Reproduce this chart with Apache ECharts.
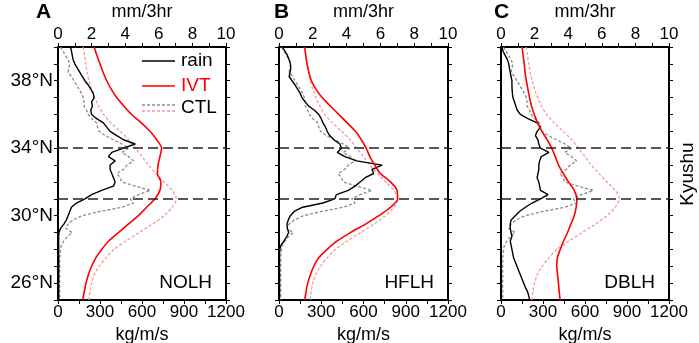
<!DOCTYPE html>
<html>
<head>
<meta charset="utf-8">
<script src="https://cdn.jsdelivr.net/npm/echarts@6.0.0/dist/echarts.min.js"></script>
<style>
html,body{margin:0;padding:0;background:#fff;}
#chart{width:699px;height:343px;}
</style>
</head>
<body>
<div id="chart"></div>
<script>
// latitude sampling (degrees N)
var latFine = [
  40,39.75,39.5,39.25, 39,38.75,38.5,38.25, 38,37.75,37.5,37.25, 37,36.75,36.5,36.25,
  36,35.75,35.5,35.25, 35,34.75,34.5,34.25, 34,33.75,33.5,33.25, 33,32.75,32.5,32.25,
  32,31.75,31.5,31.25, 31,30.75,30.5,30.25, 30,29.75,29.5,29.25, 29,28.75,28.5,28.25,
  28,27.75,27.5,27.25, 27,26.75,26.5,26.25, 26,25.75,25.5,25.25, 25
];
var latCoarse = [40,39.5,39,38.5,38,37.5,37,36.5,36,35.5,35,34.5,34,33.5,33,32.5,
  32,31.5,31,30.5,30,29.5,29,28.5,28,27.5,27,26.5,26,25.5,25];

// rain, mm/3hr (on latFine)
var ctlRain = [
  0.15,0.3,0.45,0.6, 0.7,0.65,0.6,0.8, 0.95,1.1,1.25,1.4, 1.5,1.55,1.55,1.7,
  1.8,2.0,2.3,2.35, 2.45,2.8,3.3,3.8, 4.2,3.8,4.2,4.5, 4.1,3.9,3.5,3.7,
  3.8,4.6,5.5,4.8, 4.3,4.5,3.8,2.5, 1.45,0.9,0.6,0.45, 0.85,0.55,0.35,0.2,
  0.15,0.12,0.1,0.1, 0.1,0.1,0.1,0.1, 0.1,0.1,0.1,0.1, 0.1
];
var rainA = [
  0.75,0.8,0.85,0.9, 1.0,1.15,1.3,1.45, 1.6,1.8,1.95,2.1, 2.15,2.0,2.05,1.95,
  2.0,2.3,2.7,2.9, 3.1,3.5,3.9,4.6, 3.9,3.2,3.0,3.4, 3.1,3.1,3.2,3.3,
  3.4,3.3,2.6,2.0, 1.6,1.1,0.8,0.7, 0.6,0.5,0.35,0.15, 0.06,0.04,0.04,0.04,
  0.04,0.04,0.04,0.04, 0.04,0.04,0.04,0.04, 0.04,0.04,0.04,0.04, 0.04
];
var rainB = [
  0.2,0.35,0.5,0.6, 0.67,0.7,0.65,0.6, 0.77,0.95,1.1,1.25, 1.36,1.55,1.75,2.1,
  2.35,2.5,2.6,2.75, 2.85,3.0,3.25,3.6, 3.7,3.45,3.9,4.6, 6.1,5.5,5.6,5.1,
  4.8,4.5,4.1,3.4, 3.3,2.6,1.4,0.9, 0.67,0.55,0.47,0.5, 0.57,0.45,0.3,0.12,
  0.05,0.03,0.03,0.03, 0.03,0.03,0.03,0.03, 0.03,0.03,0.03,0.03, 0.03
];
var rainC = [
  0.06,0.12,0.25,0.38, 0.46,0.5,0.55,0.6, 0.65,0.65,0.66,0.68, 0.71,0.8,0.88,0.97,
  1.15,1.6,2.15,2.35, 2.15,2.05,2.2,2.25, 2.35,2.85,2.4,2.3, 2.25,2.25,2.2,2.15,
  2.25,2.3,2.35,2.8, 2.35,1.85,1.45,1.1, 0.85,0.6,0.55,0.55, 0.6,0.65,0.55,0.6,
  0.65,0.7,0.75,0.85, 0.95,1.05,1.15,1.25, 1.35,1.45,1.58,1.65, 1.7
];

// IVT, kg/m/s (on latCoarse)
var ctlIvt = [180,190,198,208,222,240,262,290,325,380,445,505,553,600,645,700,
  757,816,845,816,757,674,580,485,400,342,294,260,240,228,220];
var ivtA = [258,278,300,322,348,380,419,470,526,595,657,705,740,728,715,710,
  735,728,693,633,574,502,431,362,312,270,240,217,200,188,176];
var ivtB = [183,190,199,212,230,262,306,365,425,485,543,585,619,645,680,720,
  792,838,842,792,709,614,508,413,342,282,247,223,204,192,183];
var ivtC = [150,158,166,172,181,192,204,218,238,262,292,330,362,388,411,445,
  482,523,542,537,523,499,475,447,423,403,398,404,410,416,422];

var panelNames = ['A','B','C'];
var expNames = ['NOLH','HFLH','DBLH'];
var rainList = [rainA, rainB, rainC];
var ivtList = [ivtA, ivtB, ivtC];
var latTicks = [26,30,34,38];
var kyushuLat = [34,31];

var FONT = '"Liberation Sans", Arial, Helvetica, sans-serif';
var boxes = [
  {left:58, top:47, width:168, height:253},
  {left:279, top:47, width:169, height:253},
  {left:501, top:47, width:168, height:253}
];

function pairs(xs, ys){
  return xs.map(function(v,i){ return [v, ys[i]]; });
}

var axLine = {show:true, onZero:false, lineStyle:{color:'#000', width:2}};
var axTick = {show:true, length:4, lineStyle:{color:'#000', width:1}};
var lbl = {color:'#000', fontSize:17, fontFamily:FONT};

var grids = [], xAxes = [], yAxes = [], series = [], graphics = [];

for (var p = 0; p < 3; p++) {
  var b = boxes[p];
  grids.push({left:b.left, top:b.top, width:b.width, height:b.height, containLabel:false, outerBoundsMode:'none'});
  // bottom: IVT
  xAxes.push({type:'value', gridIndex:p, position:'bottom', min:0, max:1200, interval:150,
    axisLine:axLine, axisTick:axTick, splitLine:{show:false},
    axisLabel:Object.assign({margin:4, formatter:function(v){ return v % 300 === 0 ? String(v) : ''; }}, lbl),
    name:'kg/m/s', nameLocation:'middle', nameGap:20,
    nameTextStyle:{color:'#000', fontSize:18, fontFamily:FONT}});
  // top: rain
  xAxes.push({type:'value', gridIndex:p, position:'top', min:0, max:10, interval:1,
    axisLine:axLine, axisTick:axTick, splitLine:{show:false},
    axisLabel:Object.assign({margin:4, formatter:function(v){ return v % 2 === 0 ? String(v) : ''; }}, lbl),
    name:'mm/3hr', nameLocation:'middle', nameGap:22,
    nameTextStyle:{color:'#000', fontSize:18, fontFamily:FONT}});
  yAxes.push({type:'value', gridIndex:p, position:'left', min:25, max:40, interval:1,
    axisLine:axLine, axisTick:axTick, splitLine:{show:false},
    axisLabel:{show:p === 0, margin:5, fontSize:19, color:'#000', fontFamily:FONT,
      formatter:function(v){ return latTicks.indexOf(v) >= 0 ? v + '°N' : ''; }}});
  yAxes.push({type:'value', gridIndex:p, position:'right', min:25, max:40, interval:1,
    axisLine:axLine, axisTick:axTick, splitLine:{show:false}, axisLabel:{show:false}});

  series.push({name:'CTL rain', type:'line', xAxisIndex:2*p+1, yAxisIndex:2*p,
    data:pairs(ctlRain, latFine), symbol:'none', silent:true,
    lineStyle:{color:'#8a8a8a', width:1.3, type:[3,2]}, z:2});
  series.push({name:'CTL IVT', type:'line', xAxisIndex:2*p, yAxisIndex:2*p,
    data:pairs(ctlIvt, latCoarse), symbol:'none', silent:true, smooth:0.3,
    lineStyle:{color:'#f59a9a', width:1.3, type:[3,2]}, z:2});
  series.push({name:'rain', type:'line', xAxisIndex:2*p+1, yAxisIndex:2*p,
    data:pairs(rainList[p], latFine), symbol:'none', silent:true,
    lineStyle:{color:'#000', width:1.4}, z:3,
    markLine:{silent:true, symbol:'none', label:{show:false},
      lineStyle:{color:'#222', width:1.5, type:[10,5]},
      data:kyushuLat.map(function(l){ return {yAxis:l}; })}});
  series.push({name:'IVT', type:'line', xAxisIndex:2*p, yAxisIndex:2*p,
    data:pairs(ivtList[p], latCoarse), symbol:'none', silent:true, smooth:0.3,
    lineStyle:{color:'#ff0000', width:1.6}, z:4});

  graphics.push({type:'text', left:[36,274,494][p], top:2,
    style:{text:panelNames[p], font:'bold 21px ' + FONT, fill:'#000'}});
  graphics.push({type:'text', x:b.left + b.width - 14, y:283,
    style:{text:expNames[p], font:'19px ' + FONT, fill:'#000', align:'right', verticalAlign:'middle'}});
}

// legend in panel A
graphics.push({type:'line', shape:{x1:142, y1:61, x2:175, y2:61}, style:{stroke:'#000', lineWidth:1.4}});
graphics.push({type:'text', x:181, y:61, style:{text:'rain', font:'19px ' + FONT, fill:'#000', verticalAlign:'middle'}});
graphics.push({type:'line', shape:{x1:142, y1:86, x2:175, y2:86}, style:{stroke:'#ff0000', lineWidth:1.6}});
graphics.push({type:'text', x:181, y:86, style:{text:'IVT', font:'19px ' + FONT, fill:'#ff0000', verticalAlign:'middle'}});
graphics.push({type:'line', shape:{x1:142, y1:105, x2:175, y2:105}, style:{stroke:'#8a8a8a', lineWidth:1.3, lineDash:[3,2]}});
graphics.push({type:'line', shape:{x1:142, y1:111, x2:175, y2:111}, style:{stroke:'#f59a9a', lineWidth:1.3, lineDash:[3,2]}});
graphics.push({type:'text', x:181, y:108, style:{text:'CTL', font:'19px ' + FONT, fill:'#000', verticalAlign:'middle'}});

// region label
graphics.push({type:'text', x:688, y:174, rotation:Math.PI/2,
  style:{text:'Kyushu', font:'19px ' + FONT, fill:'#000', align:'center', verticalAlign:'middle'}});

var chart = echarts.init(document.getElementById('chart'), null, {renderer:'canvas'});
chart.setOption({
  animation:false,
  backgroundColor:'#fff',
  grid:grids,
  xAxis:xAxes,
  yAxis:yAxes,
  series:series,
  graphic:graphics
});
</script>
</body>
</html>
